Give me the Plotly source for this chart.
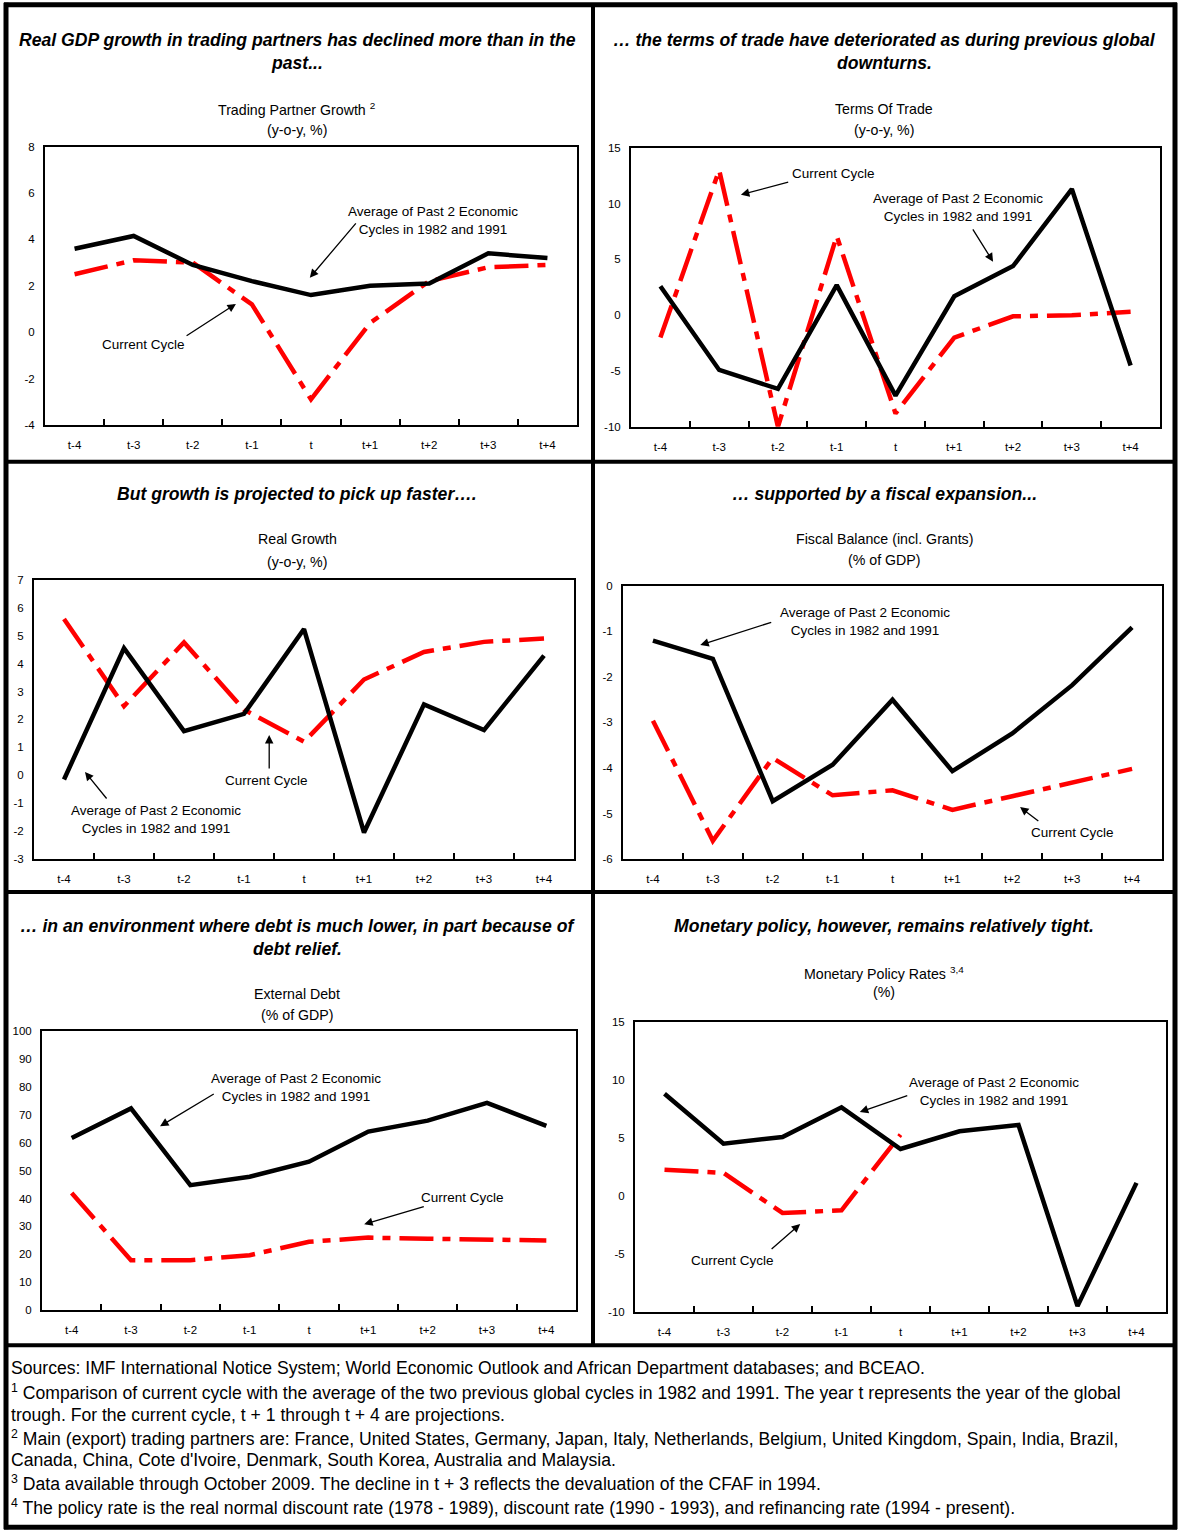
import plotly.graph_objects as go

W, H = 1178, 1531
FONT = "Liberation Sans, Arial, sans-serif"

periods = ["t-4", "t-3", "t-2", "t-1", "t", "t+1", "t+2", "t+3", "t+4"]

# Panel 1: Trading partner growth
tp_past = [3.6, 4.15, 2.9, 2.2, 1.6, 2.0, 2.1, 3.4, 3.2]
tp_curr = [2.5, 3.1, 3.0, 1.2, -2.9, 0.4, 2.2, 2.8, 2.9]
# Panel 2: Terms of trade
tot_past = [2.6, -4.9, -6.6, 2.7, -7.2, 1.7, 4.4, 11.3, -4.5]
tot_curr = [-2.0, 13.0, -10.0, 7.1, -8.8, -2.0, -0.1, 0.0, 0.3]
# Panel 3: Real growth
rg_past = [-0.15, 4.55, 1.58, 2.2, 5.24, -2.05, 2.54, 1.62, 4.29]
rg_curr = [5.6, 2.48, 4.76, 2.35, 1.2, 3.43, 4.42, 4.78, 4.9]
# Panel 4: Fiscal balance
fb_past = [-1.2, -1.6, -4.73, -3.93, -2.5, -4.07, -3.24, -2.18, -0.91]
fb_curr = [-2.96, -5.6, -3.78, -4.6, -4.49, -4.92, -4.62, -4.33, -4.02]
# Panel 5: External debt
ed_past = [61.7, 72.3, 44.8, 47.8, 53.2, 64.0, 67.9, 74.3, 66.0]
ed_curr = [42.0, 17.9, 17.9, 19.7, 24.5, 26.0, 25.6, 25.1, 25.0]
# Panel 6: Monetary policy rates
mp_past = [8.83, 4.52, 5.1, 7.65, 4.06, 5.59, 6.13, -9.48, 1.14]
mp_curr = [2.28, 2.0, -1.45, -1.22, 5.3, None, None, None, None]

titles = [
    ["Real GDP growth in trading partners has declined more than in the", "past..."],
    ["… the terms of trade have deteriorated as during previous global", "downturns."],
    ["But growth is projected to pick up faster…."],
    ["… supported by a fiscal expansion..."],
    ["… in an environment where debt is much lower, in part because of", "debt relief."],
    ["Monetary policy, however, remains relatively tight."],
]
subtitles = [
    ["Trading Partner Growth <sup>2</sup>", "(y-o-y, %)"],
    ["Terms Of Trade", "(y-o-y, %)"],
    ["Real Growth", "(y-o-y, %)"],
    ["Fiscal Balance (incl. Grants)", "(% of GDP)"],
    ["External Debt", "(% of GDP)"],
    ["Monetary Policy Rates <sup>3,4</sup>", "(%)"],
]
y_ranges = [(-4, 8, 2), (-10, 15, 5), (-3, 7, 1), (-6, 0, 1), (0, 100, 10), (-10, 15, 5)]

footnotes = [
    "Sources: IMF International Notice System; World Economic Outlook and African Department databases; and BCEAO.",
    "<sup>1</sup> Comparison of current cycle with the average of the two previous global cycles in 1982 and 1991. The year t represents the year of the global",
    "trough. For the current cycle, t + 1 through t + 4 are projections.",
    "<sup>2</sup> Main (export) trading partners are: France, United States, Germany, Japan, Italy, Netherlands, Belgium, United Kingdom, Spain, India, Brazil,",
    "Canada, China, Cote d'Ivoire, Denmark, South Korea, Australia and Malaysia.",
    "<sup>3</sup> Data available through October 2009. The decline in t + 3 reflects the devaluation of the CFAF in 1994.",
    "<sup>4</sup> The policy rate is the real normal discount rate (1978 - 1989), discount rate (1990 - 1993), and refinancing rate (1994 - present).",
]

past_series = [tp_past, tot_past, rg_past, fb_past, ed_past, mp_past]
curr_series = [tp_curr, tot_curr, rg_curr, fb_curr, ed_curr, mp_curr]

# page-pixel geometry of the reference
plot_boxes = [
    (45, 577, 147, 425),
    (631, 1160, 148, 427),
    (34, 574, 580, 859),
    (623, 1162, 586, 859),
    (42, 576, 1031, 1310),
    (635, 1166, 1022, 1312),
]
title_y = [[40, 63], [40, 63], [494], [494], [926, 949], [926]]
sub_y = [[109, 130], [109, 130], [539, 562], [539, 560], [994, 1015], [973, 992]]
col_center = [297, 884]


def px(x):
    return x / W


def py(y):
    # page pixel (from top) -> paper fraction, compensating for the
    # small vertical squeeze observed in the rendered screenshot
    yy = (y - 6.3) / 0.9918
    return 1 - yy / H


AVG = "Average of Past 2 Economic<br>Cycles in 1982 and 1991"
CUR = "Current Cycle"
# (label, text_x, text_y, arrow_from_x, arrow_from_y, arrow_to_x, arrow_to_y) in data coords
notes = [
    [(AVG, 6.07, 4.8, 4.78, 4.76, 3.98, 2.35), (CUR, 1.16, -0.55, 1.87, -0.2, 2.73, 1.22)],
    [(CUR, 2.94, 12.67, 2.2, 11.95, 1.37, 10.79), (AVG, 5.06, 9.62, 5.3, 7.83, 5.66, 4.79)],
    [(AVG, 1.53, -1.57, 0.73, -0.885, 0.35, 0.12), (CUR, 3.38, -0.17, 3.42, 0.19, 3.42, 1.44)],
    [(AVG, 3.54, -0.79, 2.0, -0.79, 0.79, -1.30), (CUR, 7.01, -5.41, 6.46, -5.19, 6.13, -4.86)],
    [(AVG, 3.78, 79.9, 2.42, 77.8, 1.49, 65.9), (CUR, 6.58, 40.5, 5.96, 37.3, 4.93, 30.8)],
    [(AVG, 5.58, 9.05, 4.14, 8.71, 3.31, 7.24), (CUR, 1.16, -5.52, 1.79, -4.66, 2.3, -2.41)],
]

fig = go.Figure()
annotations = []
shapes = []
layout_axes = {}

xidx = list(range(len(periods)))

for i in range(6):
    sfx = "" if i == 0 else str(i + 1)
    xa, ya = "x" + sfx, "y" + sfx
    x0, x1, y0, y1 = plot_boxes[i]
    fig.add_trace(go.Scatter(
        x=xidx, y=curr_series[i], mode="lines", xaxis=xa, yaxis=ya,
        line=dict(color="#FF0000", width=4.5, dash="34px,9px,8px,9px"),
        showlegend=False, hoverinfo="skip", connectgaps=False))
    fig.add_trace(go.Scatter(
        x=xidx, y=past_series[i], mode="lines", xaxis=xa, yaxis=ya,
        line=dict(color="#000000", width=4.5),
        showlegend=False, hoverinfo="skip"))
    lo, hi, step = y_ranges[i]
    tv = list(range(lo, hi + 1, step))
    layout_axes["xaxis" + sfx] = dict(
        domain=[px(x0), px(x1)], anchor=ya, range=[-0.5, len(periods) - 0.5],
        tickmode="array", tickvals=xidx, ticktext=periods,
        showgrid=False, zeroline=False, showline=True, linecolor="black",
        linewidth=2, mirror=True, ticks="",
        minor=dict(tickvals=[k + 0.5 for k in range(len(periods) - 1)],
                   ticks="inside", ticklen=6, tickcolor="black", tickwidth=1.5,
                   showgrid=False),
        tickfont=dict(family=FONT, size=11.5, color="black"),
        ticklabelstandoff=8, fixedrange=True)
    layout_axes["yaxis" + sfx] = dict(
        domain=[py(y1), py(y0)], anchor=xa, range=[lo, hi],
        tickmode="array", tickvals=tv, ticktext=[str(v) for v in tv],
        showgrid=False, zeroline=False, showline=True, linecolor="black",
        linewidth=2, mirror=True, ticks="",
        tickfont=dict(family=FONT, size=11.5, color="black"),
        ticklabelstandoff=6, fixedrange=True)

    cx = col_center[i % 2]
    for line, ty in zip(titles[i], title_y[i]):
        annotations.append(dict(
            text="<b><i>" + line + "</i></b>", x=px(cx), y=py(ty),
            xref="paper", yref="paper", xanchor="center", yanchor="middle",
            showarrow=False, font=dict(family=FONT, size=17.6, color="black")))
    for line, ty in zip(subtitles[i], sub_y[i]):
        annotations.append(dict(
            text=line, x=px(cx), y=py(ty),
            xref="paper", yref="paper", xanchor="center", yanchor="middle",
            showarrow=False, font=dict(family=FONT, size=14.2, color="black")))

    for (label, tx, ty, fx, fy, ex, ey) in notes[i]:
        annotations.append(dict(
            text=label, x=tx, y=ty, xref=xa, yref=ya, xanchor="center",
            yanchor="middle", showarrow=False, align="center",
            font=dict(family=FONT, size=13.5, color="black")))
        annotations.append(dict(
            text="", x=ex, y=ey, ax=fx, ay=fy, xref=xa, yref=ya,
            axref=xa, ayref=ya, showarrow=True, arrowhead=2, arrowsize=1.3,
            arrowwidth=1.3, arrowcolor="black", standoff=0, startstandoff=0))

foot_y = [1368, 1392, 1415, 1438, 1460, 1483, 1507]
for line, fy in zip(footnotes, foot_y):
    annotations.append(dict(
        text=line, x=px(9), y=py(fy), xref="paper", yref="paper",
        xanchor="left", yanchor="middle", showarrow=False, align="left",
        font=dict(family=FONT, size=17.6, color="black")))


def hline(y, xa0, xa1, w=4):
    return dict(type="line", xref="paper", yref="paper", x0=px(xa0), x1=px(xa1),
                y0=py(y), y1=py(y), line=dict(color="black", width=w))


def vline(x, ya0, ya1, w=4):
    return dict(type="line", xref="paper", yref="paper", x0=px(x), x1=px(x),
                y0=py(ya0), y1=py(ya1), line=dict(color="black", width=w))


shapes.append(hline(5, 4, 1177, 5))
shapes.append(hline(1527, 4, 1177, 5))
shapes.append(vline(6, 3, 1529, 5))
shapes.append(vline(1175, 3, 1529, 5))
shapes.append(vline(593, 5, 1345))
for y in [462, 892, 1345]:
    shapes.append(hline(y, 6, 1175))

fig.update_layout(
    width=W, height=H, margin=dict(l=0, r=0, t=0, b=0),
    paper_bgcolor="white", plot_bgcolor="white",
    annotations=annotations, shapes=shapes, showlegend=False,
    font=dict(family=FONT, color="black"),
    **layout_axes)

fig.write_html(
    "out.html", config={"displayModeBar": False},
    post_script=(
        "document.documentElement.style.margin='0';"
        "document.documentElement.style.overflow='hidden';"
        "document.body.style.margin='0';document.body.style.padding='0';"
        "document.body.style.overflow='hidden';"
        "var d=document.getElementById('{plot_id}');"
        "d.style.position='fixed';d.style.top='0px';d.style.left='0px';"
    ))
